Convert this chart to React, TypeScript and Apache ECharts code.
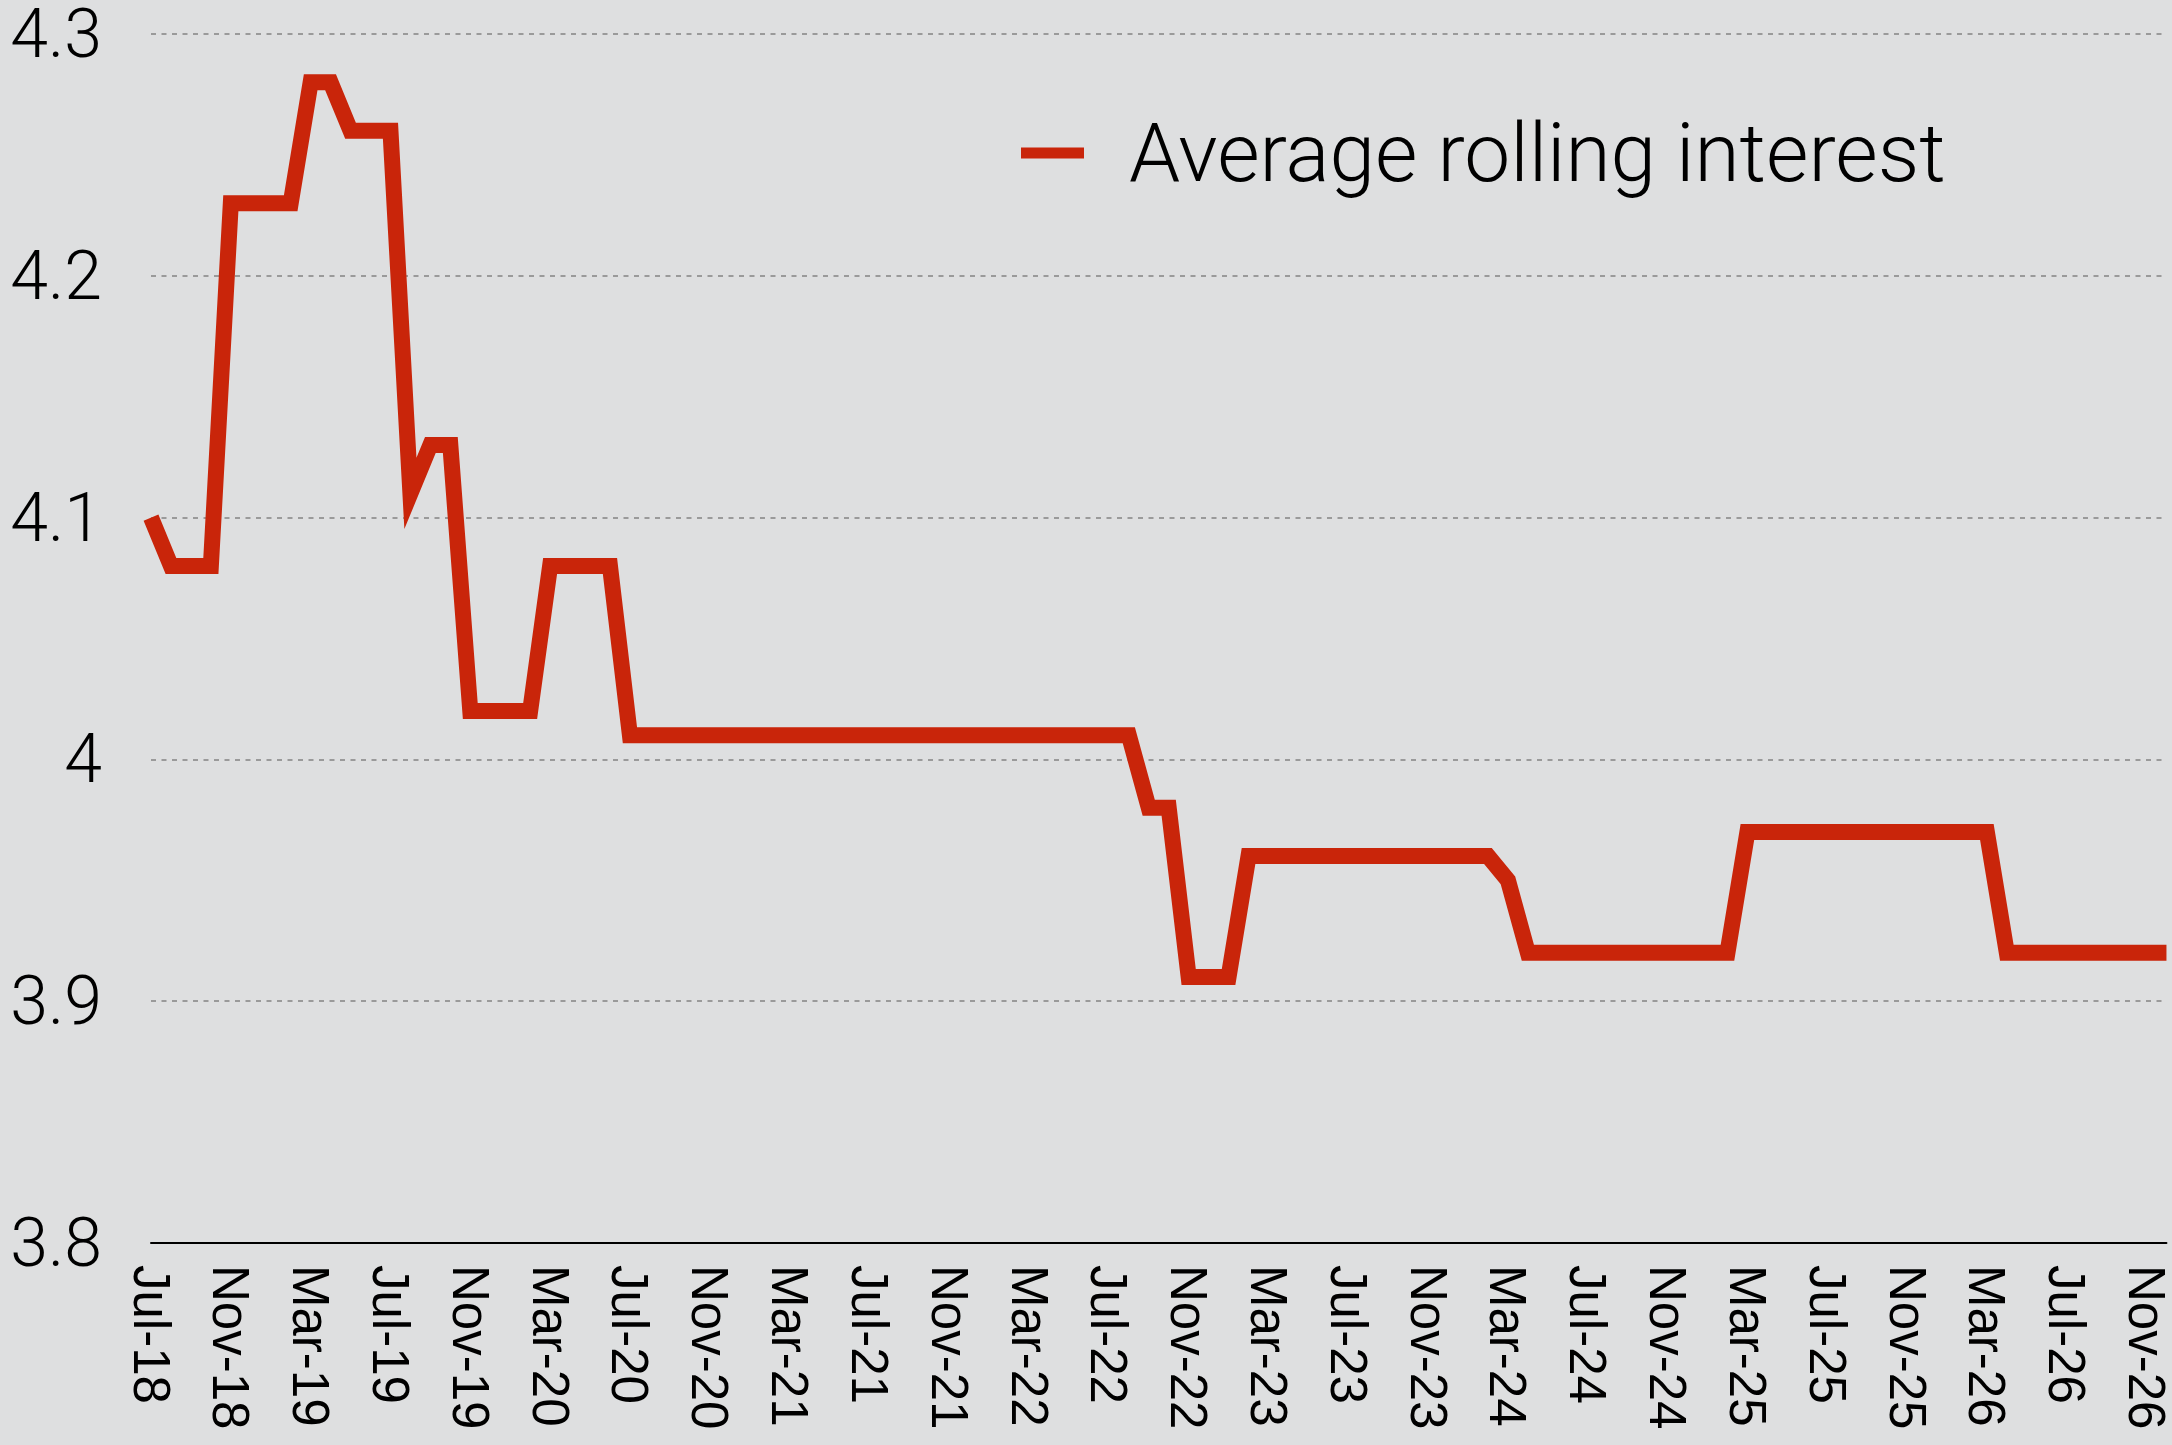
import React, { useEffect, useRef } from "react";
import * as echarts from "echarts";

// Monthly categories, Jul-2018 to Dec-2026
const months2018 = ["Jul-18", "Aug-18", "Sep-18", "Oct-18", "Nov-18", "Dec-18"];
const months2019 = ["Jan-19", "Feb-19", "Mar-19", "Apr-19", "May-19", "Jun-19", "Jul-19", "Aug-19", "Sep-19", "Oct-19", "Nov-19", "Dec-19"];
const months2020 = ["Jan-20", "Feb-20", "Mar-20", "Apr-20", "May-20", "Jun-20", "Jul-20", "Aug-20", "Sep-20", "Oct-20", "Nov-20", "Dec-20"];
const months2021 = ["Jan-21", "Feb-21", "Mar-21", "Apr-21", "May-21", "Jun-21", "Jul-21", "Aug-21", "Sep-21", "Oct-21", "Nov-21", "Dec-21"];
const months2022 = ["Jan-22", "Feb-22", "Mar-22", "Apr-22", "May-22", "Jun-22", "Jul-22", "Aug-22", "Sep-22", "Oct-22", "Nov-22", "Dec-22"];
const months2023 = ["Jan-23", "Feb-23", "Mar-23", "Apr-23", "May-23", "Jun-23", "Jul-23", "Aug-23", "Sep-23", "Oct-23", "Nov-23", "Dec-23"];
const months2024 = ["Jan-24", "Feb-24", "Mar-24", "Apr-24", "May-24", "Jun-24", "Jul-24", "Aug-24", "Sep-24", "Oct-24", "Nov-24", "Dec-24"];
const months2025 = ["Jan-25", "Feb-25", "Mar-25", "Apr-25", "May-25", "Jun-25", "Jul-25", "Aug-25", "Sep-25", "Oct-25", "Nov-25", "Dec-25"];
const months2026 = ["Jan-26", "Feb-26", "Mar-26", "Apr-26", "May-26", "Jun-26", "Jul-26", "Aug-26", "Sep-26", "Oct-26", "Nov-26", "Dec-26"];

// Average rolling interest (%), one value per month
const rate2018 = [4.10, 4.08, 4.08, 4.08, 4.23, 4.23];
const rate2019 = [4.23, 4.23, 4.28, 4.28, 4.26, 4.26, 4.26, 4.11, 4.13, 4.13, 4.02, 4.02];
const rate2020 = [4.02, 4.02, 4.08, 4.08, 4.08, 4.08, 4.01, 4.01, 4.01, 4.01, 4.01, 4.01];
const rate2021 = [4.01, 4.01, 4.01, 4.01, 4.01, 4.01, 4.01, 4.01, 4.01, 4.01, 4.01, 4.01];
const rate2022 = [4.01, 4.01, 4.01, 4.01, 4.01, 4.01, 4.01, 4.01, 3.98, 3.98, 3.91, 3.91];
const rate2023 = [3.91, 3.96, 3.96, 3.96, 3.96, 3.96, 3.96, 3.96, 3.96, 3.96, 3.96, 3.96];
const rate2024 = [3.96, 3.96, 3.95, 3.92, 3.92, 3.92, 3.92, 3.92, 3.92, 3.92, 3.92, 3.92];
const rate2025 = [3.92, 3.92, 3.97, 3.97, 3.97, 3.97, 3.97, 3.97, 3.97, 3.97, 3.97, 3.97];
const rate2026 = [3.97, 3.97, 3.97, 3.92, 3.92, 3.92, 3.92, 3.92, 3.92, 3.92, 3.92, 3.92];

const seriesName = "Average rolling interest";

// Value axis range
const yMin = 3.8;
const yMax = 4.3;
const yStep = 0.1;

const categories = [
  ...months2018, ...months2019, ...months2020, ...months2021, ...months2022,
  ...months2023, ...months2024, ...months2025, ...months2026,
];
const rates = [
  ...rate2018, ...rate2019, ...rate2020, ...rate2021, ...rate2022,
  ...rate2023, ...rate2024, ...rate2025, ...rate2026,
];

const lightFont = "Roboto, sans-serif";

export default function App() {
  const ref = useRef<HTMLDivElement>(null);

  useEffect(() => {
    if (!ref.current) return;
    const chart = echarts.init(ref.current, null, { renderer: "svg" });
    chart.setOption({
      animation: false,
      backgroundColor: "#DEDFE0",
      grid: { left: 151, right: 2, top: 29, bottom: 202, containLabel: false },
      legend: {
        show: true,
        left: 1016,
        top: 99,
        icon: "rect",
        itemWidth: 63,
        itemHeight: 11,
        data: [{ name: seriesName }],
        textStyle: {
          fontFamily: lightFont,
          fontWeight: 300,
          fontSize: 82,
          color: "#000",
          lineHeight: 98,
          padding: [0, 0, 0, 40],
        },
      },
      xAxis: {
        type: "category",
        data: categories,
        boundaryGap: false,
        axisLine: { show: true, lineStyle: { color: "#000", width: 2 } },
        axisTick: { show: false },
        splitLine: { show: false },
        axisLabel: {
          interval: 3,
          rotate: -90,
          margin: 22,
          fontFamily: "Liberation Sans, Arial, sans-serif",
          fontSize: 51,
          color: "#000",
        },
      },
      yAxis: {
        type: "value",
        min: yMin,
        max: yMax,
        interval: yStep,
        axisLine: { show: false },
        axisTick: { show: false },
        axisLabel: {
          margin: 49,
          fontFamily: lightFont,
          fontWeight: 300,
          fontSize: 68,
          color: "#000",
        },
        splitLine: {
          show: true,
          lineStyle: { color: "#9A9A9A", width: 2, type: [5, 5.5] },
        },
      },
      series: [
        {
          name: seriesName,
          type: "line",
          data: rates,
          showSymbol: false,
          symbol: "none",
          color: "#C9250A",
          lineStyle: { color: "#C9250A", width: 16, cap: "butt", join: "miter", miterLimit: 20 },
        },
      ],
    });
    return () => chart.dispose();
  }, []);

  return (
    <div
      ref={ref}
      style={{ position: "fixed", left: 0, top: 0, width: 2172, height: 1445 }}
    />
  );
}
